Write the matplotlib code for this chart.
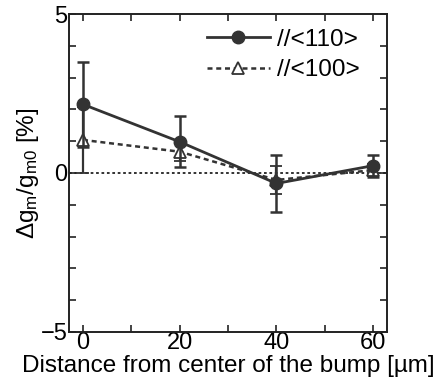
import numpy as np
import matplotlib
matplotlib.use("Agg")
import matplotlib.pyplot as plt
from matplotlib.ticker import MultipleLocator
from matplotlib.lines import Line2D

plt.rcParams['font.family'] = ['Liberation Sans', 'DejaVu Sans']
plt.rcParams['mathtext.fontset'] = 'custom'
plt.rcParams['mathtext.rm'] = 'Liberation Sans'
plt.rcParams['mathtext.it'] = 'Liberation Sans:italic'

# data
distance = [0, 20, 40, 60]
g110 = [2.16, 0.98, -0.33, 0.23]
g110_err = [1.33, 0.80, 0.90, 0.35]
g100 = [1.04, 0.67, -0.22, 0.09]
g100_err = [1.04, 0.30, 0.45, 0.20]

col = "#333333"
fs = 17.5

fig = plt.figure(figsize=(4.42, 3.81), dpi=100)
ax = fig.add_axes([0.156, 0.129, 0.72, 0.834])

ax.axhline(0, color="#222222", lw=1.3, ls=(0, (1.5, 1.5)), zorder=1)

ax.errorbar(distance, g100, yerr=g100_err, color=col, lw=1.8, ls=(0, (2, 1.5)),
            marker="^", markersize=8, markerfacecolor="white", markeredgecolor=col,
            markeredgewidth=1.3, capsize=4, elinewidth=1.6, capthick=1.6, zorder=2)
ax.errorbar(distance, g110, yerr=g110_err, color=col, lw=2,
            marker="o", markersize=9, markerfacecolor=col, markeredgecolor=col,
            capsize=4, elinewidth=1.8, capthick=1.8, zorder=3)

ax.set_xlim(-2.9, 62.9)
ax.set_ylim(-5, 5)
ax.xaxis.set_major_locator(MultipleLocator(20))
ax.xaxis.set_minor_locator(MultipleLocator(10))
ax.yaxis.set_major_locator(MultipleLocator(5))
ax.yaxis.set_minor_locator(MultipleLocator(1))
ax.tick_params(which="both", direction="in", top=True, right=True,
               labelsize=17, width=1.2, color="#222222", pad=1)
ax.tick_params(axis="x", pad=0)
ax.tick_params(which="both", length=5)
for s in ax.spines.values():
    s.set_linewidth(1.4)
    s.set_color("#222222")

ax.set_xlabel("Distance from center of the bump [µm]", fontsize=fs, labelpad=1)
ax.set_ylabel(r"$\Delta$g$_\mathrm{m}$/g$_\mathrm{m0}$ [%]", fontsize=fs, labelpad=0)

handles = [
    Line2D([], [], color=col, lw=2, marker="o", markersize=9),
    Line2D([], [], color=col, lw=1.8, ls=(0, (2, 1.5)), marker="^", markersize=8,
           markerfacecolor="white", markeredgewidth=1.3),
]
ax.legend(handles, ["//<110>", "//<100>"], loc="upper right", frameon=False,
          fontsize=fs, handlelength=2.6, handletextpad=0.3, labelspacing=0.35,
          borderaxespad=0.2, bbox_to_anchor=(0.96, 1.0))

fig.savefig("out.png", dpi=100)
